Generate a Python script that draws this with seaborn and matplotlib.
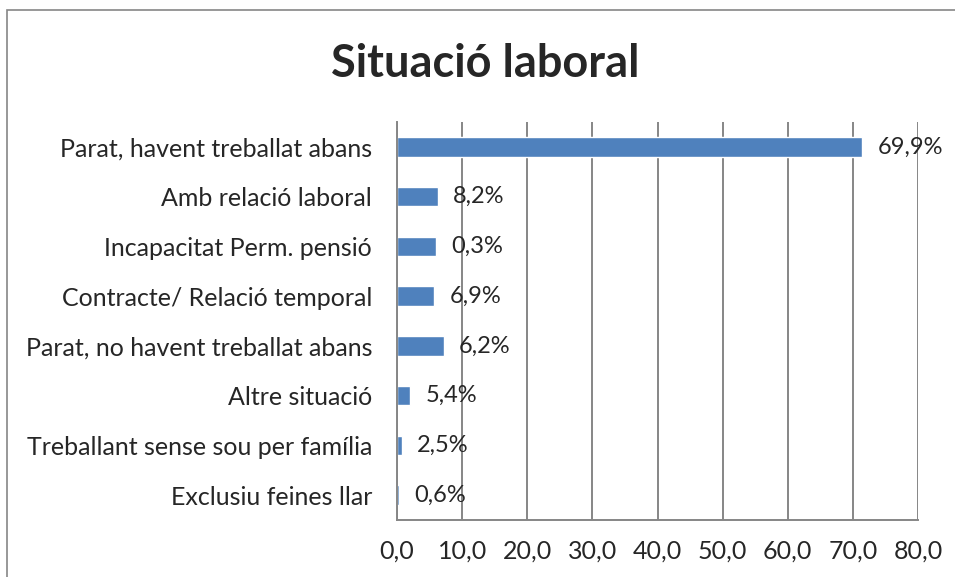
import matplotlib
matplotlib.use("Agg")
import matplotlib.pyplot as plt
import matplotlib.patches as mpatches
import pandas as pd
import seaborn as sns

# Dades llegides del gràfic
categories = ['Parat, havent treballat abans', 'Amb relació laboral', 'Incapacitat Perm. pensió',
              'Contracte/ Relació temporal', 'Parat, no havent treballat abans', 'Altre situació',
              'Treballant sense sou per família', 'Exclusiu feines llar']
valors = [71.4, 6.3, 6.0, 5.7, 7.2, 2.0, 0.7, 0.3]
etiquetes = ['69,9%', '8,2%', '0,3%', '6,9%', '6,2%', '5,4%', '2,5%', '0,6%']
ticks_x = [0, 10, 20, 30, 40, 50, 60, 70, 80]

sns.set_style('white')
plt.rcParams['font.family'] = ['Lato', 'DejaVu Sans']

df = pd.DataFrame({'categoria': categories, 'valor': valors})

fig = plt.figure(figsize=(9.55, 5.77), dpi=100)
ax = fig.add_axes([397 / 955, 1 - 520 / 577, (918 - 397) / 955, (520 - 122) / 577])

sns.barplot(data=df, x='valor', y='categoria', orient='h', color='#4F81BD',
            saturation=1, width=0.39, ax=ax)

gris = '#868686'
ax.set_xlim(0, 80)
ax.set_ylim(7.5, -0.5)
ax.set_xticks(ticks_x)
ax.set_xticklabels([f'{t:.1f}'.replace('.', ',') for t in ticks_x])
ax.set_xlabel('')
ax.set_ylabel('')
ax.tick_params(axis='y', length=0, pad=18, labelsize=18)
ax.tick_params(axis='x', length=6, width=1.3, color=gris, direction='out', pad=8)
ax.set_yticks([i + 0.5 for i in range(-1, 8)], minor=True)
ax.tick_params(axis='y', which='minor', length=6, width=1.3, color=gris, direction='out')
ax.grid(axis='x', color=gris, linewidth=1.4)
ax.set_axisbelow(True)
for s in ['top', 'right']:
    ax.spines[s].set_visible(False)
for s in ['left', 'bottom']:
    ax.spines[s].set_color(gris)
    ax.spines[s].set_linewidth(1.4)

for i, (v, t) in enumerate(zip(valors, etiquetes)):
    ax.annotate(t, xy=(v, i), xytext=(11, 0), textcoords='offset points',
                ha='left', va='center', fontsize=17, clip_on=False)

for lab in ax.get_xticklabels():
    lab.set_fontsize(18)

fig.text(485 / 955, 1 - 64 / 577, 'Situació laboral', ha='center', va='center',
         fontsize=32.5, fontweight='bold')

fig.patches.append(mpatches.Rectangle((7 / 955, -0.1), 1.2, 1.1 - 10 / 577,
                                      transform=fig.transFigure, fill=False,
                                      edgecolor=gris, linewidth=1.2))

fig.savefig('out.png', dpi=100)
